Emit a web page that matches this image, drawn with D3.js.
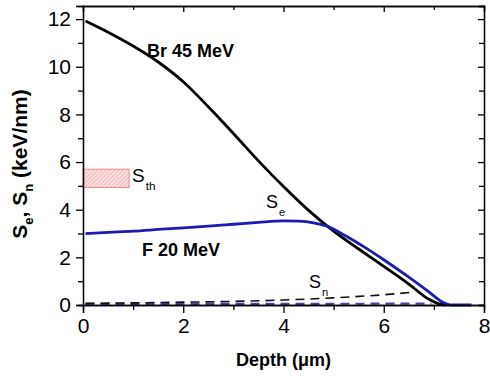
<!DOCTYPE html>
<html>
<head>
<meta charset="utf-8">
<script src="https://cdn.jsdelivr.net/npm/d3@7"></script>
<style>
  body { margin: 0; background: #fff; }
  svg { font-family: "Liberation Sans", Arial, sans-serif; }
</style>
</head>
<body>
<svg class="chart"></svg>
<script>
// stopping power vs depth, Br 45 MeV and F 20 MeV

var brDepth = [0.05, 0.5, 1.0, 1.5, 2.0, 2.5, 3.0, 3.5, 4.0, 4.5, 5.0, 5.5, 6.0, 6.5, 6.9, 7.1, 7.25]
var brSe    = [11.92, 11.45, 10.87, 10.2, 9.37, 8.32, 7.2, 6.05, 4.97, 3.97, 3.1, 2.35, 1.62, 0.88, 0.24, 0.05, 0]

var fDepth = [0.05, 0.5, 1.0, 1.5, 2.0, 2.5, 3.0, 3.5, 4.0, 4.3, 4.6, 4.85, 5.2, 5.6, 6.0, 6.5, 6.9, 7.15, 7.35, 7.75]
var fSe    = [3.0, 3.05, 3.1, 3.17, 3.24, 3.31, 3.39, 3.47, 3.53, 3.52, 3.45, 3.32, 2.95, 2.45, 1.9, 1.17, 0.55, 0.15, 0, 0]

var brSnDepth = [0.05, 1, 2, 3, 4, 5, 5.5, 6, 6.6]
var brSn      = [0.07, 0.09, 0.12, 0.15, 0.21, 0.3, 0.36, 0.43, 0.54]

var fSnDepth = [0.05, 2, 4, 6, 6.95]
var fSn      = [0.05, 0.05, 0.05, 0.055, 0.06]

// threshold band S_th
var sthDepth = [0, 0.92]
var sthRange = [4.93, 5.7]

var xTicks = [0, 2, 4, 6, 8]
var xMinor = [1, 3, 5, 7]
var yTicks = [0, 2, 4, 6, 8, 10, 12]
var yMinor = [1, 3, 5, 7, 9, 11]

let svgWidth = 490
let svgHeight = 377
let margin = {top: 6, right: 6, bottom: 72, left: 83}

var width = svgWidth - margin.left - margin.right
var height = svgHeight - margin.top - margin.bottom

var svg = d3.select(".chart")
    .attr("width", svgWidth)
    .attr("height", svgHeight)

var chart = svg.append("g")
    .attr("transform", "translate(" + margin.left + "," + margin.top + ")")

var xScale = d3.scaleLinear().domain([0, 8]).range([0, width])
var yScale = d3.scaleLinear().domain([0, 12.55]).range([height, 0])

function pts(xs, ys) {
    return xs.map(function(d, i) { return {x: d, y: ys[i]} })
}

var line = d3.line()
    .curve(d3.curveMonotoneX)
    .x(function(d) { return xScale(d.x) })
    .y(function(d) { return yScale(d.y) })

// hatch pattern for the S_th box
var defs = svg.append("defs")
var pat = defs.append("pattern")
    .attr("id", "hatch")
    .attr("patternUnits", "userSpaceOnUse")
    .attr("width", 3)
    .attr("height", 3)
    .attr("patternTransform", "rotate(45)")
pat.append("rect").attr("width", 3).attr("height", 3).attr("fill", "#fbe0e0")
pat.append("line")
    .attr("x1", 0).attr("y1", 0).attr("x2", 0).attr("y2", 3)
    .attr("stroke", "#eb9a9a").attr("stroke-width", 1.2)

chart.append("rect")
    .attr("x", xScale(sthDepth[0]))
    .attr("y", yScale(sthRange[1]))
    .attr("width", xScale(sthDepth[1]) - xScale(sthDepth[0]))
    .attr("height", yScale(sthRange[0]) - yScale(sthRange[1]))
    .attr("fill", "url(#hatch)")
    .attr("stroke", "#e88a8a")
    .attr("stroke-width", 1)

// dashed nuclear stopping lines
chart.append("path")
    .datum(pts(fSnDepth, fSn))
    .attr("d", line)
    .attr("fill", "none")
    .attr("stroke", "#4444aa")
    .attr("stroke-width", 2.2)
    .attr("stroke-dasharray", "9,6")

chart.append("path")
    .datum(pts(brSnDepth, brSn))
    .attr("d", line)
    .attr("fill", "none")
    .attr("stroke", "#111")
    .attr("stroke-width", 1.6)
    .attr("stroke-dasharray", "9,6")

// electronic stopping lines
chart.append("path")
    .datum(pts(brDepth, brSe))
    .attr("d", line)
    .attr("fill", "none")
    .attr("stroke", "#000")
    .attr("stroke-width", 2.8)

chart.append("path")
    .datum(pts(fDepth, fSe))
    .attr("d", line)
    .attr("fill", "none")
    .attr("stroke", "#1c1cb0")
    .attr("stroke-width", 2.8)

// axes: outside ticks on bottom/left, inside ticks on top/right
var xAxis = d3.axisBottom(xScale).tickValues(xTicks).tickSize(8).tickPadding(5).tickFormat(d3.format("d"))
var xAxisMinor = d3.axisBottom(xScale).tickValues(xMinor).tickSize(5).tickFormat("")
var yAxis = d3.axisLeft(yScale).tickValues(yTicks).tickSize(7).tickPadding(5).tickFormat(d3.format("d"))
var yAxisMinor = d3.axisLeft(yScale).tickValues(yMinor).tickSize(5).tickFormat("")

chart.append("g").attr("class", "x axis")
    .attr("transform", "translate(0," + height + ")")
    .call(xAxis)
chart.append("g").attr("transform", "translate(0," + height + ")").call(xAxisMinor)
chart.append("g").attr("class", "y axis").call(yAxis)
chart.append("g").call(yAxisMinor)

chart.append("g").call(d3.axisTop(xScale).tickValues(xTicks).tickSize(-6).tickFormat(""))
chart.append("g").call(d3.axisTop(xScale).tickValues(xMinor).tickSize(-4).tickFormat(""))
chart.append("g").attr("transform", "translate(" + width + ",0)")
    .call(d3.axisRight(yScale).tickValues(yTicks).tickSize(-6).tickFormat(""))
chart.append("g").attr("transform", "translate(" + width + ",0)")
    .call(d3.axisRight(yScale).tickValues(yMinor).tickSize(-5).tickFormat(""))

chart.selectAll(".domain").attr("stroke", "#000").attr("stroke-width", 1.3)
chart.selectAll(".tick line").attr("stroke", "#000").attr("stroke-width", 1.3)
chart.selectAll(".tick text").attr("font-size", 21).attr("fill", "#000")
    .attr("font-family", "Liberation Sans, Arial, sans-serif")

// axis titles
svg.append("text")
    .attr("x", margin.left + xScale(4))
    .attr("y", 366)
    .attr("text-anchor", "middle")
    .attr("font-size", 18)
    .attr("font-weight", "bold")
    .text("Depth (\u03bcm)")

var yTitle = svg.append("text")
    .attr("transform", "translate(27,164) rotate(-90)")
    .attr("text-anchor", "middle")
    .attr("font-size", 21)
    .attr("font-weight", "bold")
yTitle.append("tspan").text("S")
yTitle.append("tspan").attr("font-size", 13).attr("dy", 6).text("e")
yTitle.append("tspan").attr("dy", -6).text(", S")
yTitle.append("tspan").attr("font-size", 13).attr("dy", 6).text("n")
yTitle.append("tspan").attr("dy", -6).text(" (keV/nm)")

// in-plot labels
function label(x, y, main, sub, size) {
    var t = svg.append("text")
        .attr("x", x).attr("y", y)
        .attr("font-size", size)
    t.append("tspan").text(main)
    if (sub) {
        t.append("tspan").attr("font-size", size * 0.62).attr("dy", size * 0.42).attr("dx", 1).text(sub)
    }
    return t
}

label(147, 57, "Br 45 MeV", null, 18).attr("font-weight", "bold")
label(142, 256, "F 20 MeV", null, 18).attr("font-weight", "bold")
label(132, 182, "S", "th", 19)
label(266, 208, "S", "e", 18)
label(309, 288, "S", "n", 18)
</script>
</body>
</html>
